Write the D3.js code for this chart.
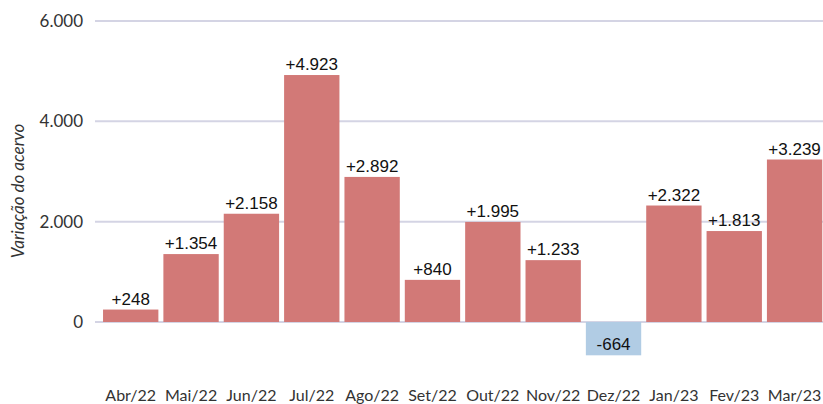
<!DOCTYPE html>
<html>
<head>
<meta charset="utf-8">
<script src="https://cdn.jsdelivr.net/npm/d3@7"></script>
<style>
  body { margin: 0; background: #fff; }
  .axis text { font-family: Lato, sans-serif; font-size: 16px; fill: #333; }
  .axis.y text { font-size: 17px; }
  .lbl { font-family: "Liberation Sans", Arial, sans-serif; font-size: 17px; fill: #111; }
</style>
</head>
<body>
<svg class="viz" width="823" height="404"></svg>
<script>
// data
var months = ["Abr/22", "Mai/22", "Jun/22", "Jul/22", "Ago/22", "Set/22",
              "Out/22", "Nov/22", "Dez/22", "Jan/23", "Fev/23", "Mar/23"];
var change = [248, 1354, 2158, 4923, 2892, 840, 1995, 1233, -664, 2322, 1813, 3239];
var yTicks = [0, 2000, 4000, 6000];

var svg = d3.select(".viz");

var x = d3.scaleBand()
  .domain(months)
  .range([100.5, 824.8])
  .paddingInner(0.083)
  .paddingOuter(0.042);

var y = d3.scaleLinear()
  .domain([0, 6000])
  .range([322, 21]);

var fmt = d3.formatLocale({decimal: ",", thousands: ".", grouping: [3], currency: ["R$", ""]}).format(",d");

// gridlines
svg.append("g")
  .selectAll("line")
  .data(yTicks)
  .enter().append("line")
    .attr("x1", 95)
    .attr("x2", 823)
    .attr("y1", function(d) { return y(d); })
    .attr("y2", function(d) { return y(d); })
    .style("stroke", "#d4d4e4")
    .style("stroke-width", "2px");

// y axis labels
var yAxis = svg.append("g")
  .attr("class", "axis y")
  .attr("transform", "translate(95,0)")
  .call(d3.axisLeft(y).tickValues(yTicks).tickFormat(fmt).tickSize(0).tickPadding(12));
yAxis.select(".domain").remove();

svg.append("text")
  .attr("transform", "translate(24,191) rotate(-90)")
  .attr("text-anchor", "middle")
  .style("font-family", "Lato, sans-serif")
  .style("font-style", "italic")
  .style("font-size", "17px")
  .style("fill", "#333")
  .text("Variação do acervo");

// bars
svg.append("g")
  .selectAll("rect")
  .data(change)
  .enter().append("rect")
    .attr("x", function(d, i) { return x(months[i]); })
    .attr("width", x.bandwidth())
    .attr("y", function(d) { return y(Math.max(0, d)); })
    .attr("height", function(d) { return Math.abs(y(d) - y(0)); })
    .attr("fill", function(d) { return d < 0 ? "#b1cce4" : "#d27977"; });

// value labels
svg.append("g")
  .selectAll("text")
  .data(change)
  .enter().append("text")
    .attr("class", "lbl")
    .attr("text-anchor", "middle")
    .attr("x", function(d, i) { return x(months[i]) + x.bandwidth() / 2; })
    .attr("y", function(d) { return y(d) - 5; })
    .text(function(d) { return (d > 0 ? "+" : "-") + fmt(Math.abs(d)); });

// x axis labels
var xAxis = svg.append("g")
  .attr("class", "axis")
  .attr("transform", "translate(0,390)")
  .call(d3.axisBottom(x).tickSize(0).tickPadding(0));
xAxis.select(".domain").remove();
</script>
</body>
</html>
